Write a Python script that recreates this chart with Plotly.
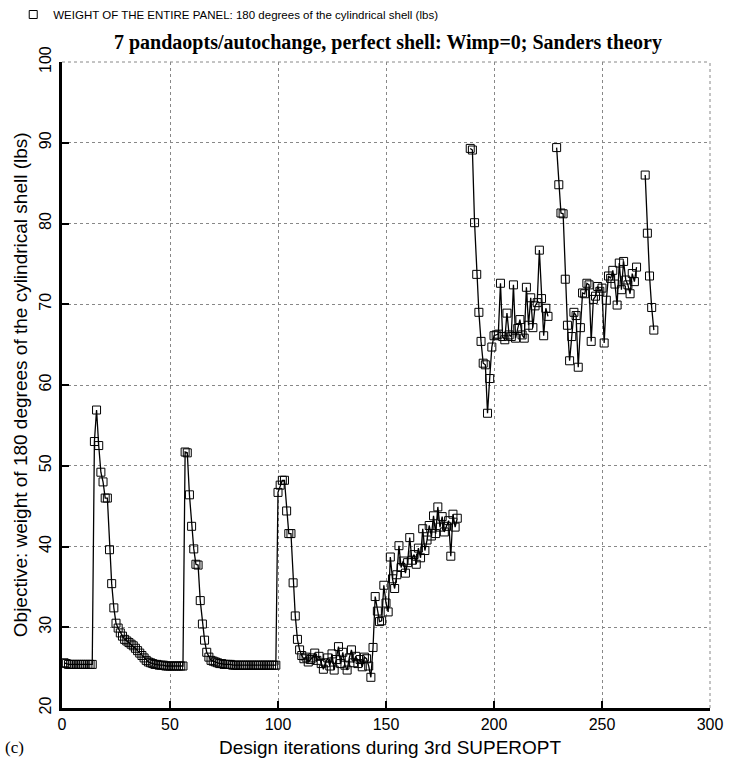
import plotly.graph_objects as go

# ---- data: (first iteration, values) for each continuous run of design iterations ----
seg1_start = 1
seg1_values = [
    # 1-14 flat
    25.6, 25.5, 25.4, 25.4, 25.4, 25.4, 25.4, 25.4, 25.4, 25.4, 25.4, 25.4, 25.4, 25.4,
    # 15-44 first spike and decay
    53.0, 56.9, 52.5, 49.2, 48.0, 46.0, 46.0, 39.6, 35.4, 32.4, 30.5, 29.9, 29.3, 28.9, 28.5,
    28.3, 28.1, 27.9, 27.7, 27.4, 27.1, 26.8, 26.5, 26.2, 25.9, 25.7, 25.6, 25.5, 25.4, 25.4,
    # 45-56
    25.3, 25.3, 25.3, 25.2, 25.2, 25.2, 25.2, 25.2, 25.2, 25.2, 25.2, 25.2,
    # 57-69 second spike
    51.7, 51.6, 46.4, 42.5, 39.7, 37.8, 37.7, 33.3, 30.4, 28.4, 26.9, 26.3, 25.9,
    # 70-99
    25.8, 25.7, 25.6, 25.5, 25.5, 25.4, 25.4, 25.4, 25.4, 25.3, 25.3, 25.3, 25.3, 25.3, 25.3,
    25.3, 25.3, 25.3, 25.3, 25.3, 25.3, 25.3, 25.3, 25.3, 25.3, 25.3, 25.3, 25.3, 25.3, 25.3,
    # 100-111 third spike
    46.7, 47.6, 48.2, 48.2, 44.4, 41.6, 41.6, 35.5, 31.4, 28.5, 27.2, 26.5,
    # 112-143 noisy plateau
    26.1, 26.3, 25.7, 26.0, 26.2, 26.8, 25.9, 26.4, 25.5, 24.8, 25.6, 26.2, 25.2, 26.7, 24.7, 26.0,
    27.6, 25.5, 26.9, 25.3, 24.7, 26.2, 27.2, 25.6, 26.4, 25.5, 26.0, 25.1, 26.3, 26.1, 25.2, 23.8,
    # 144-183 rising noisy section
    27.5, 33.8, 32.0, 30.7, 30.8, 35.2, 33.0, 31.9, 38.7, 36.0, 34.8, 36.5, 40.1, 37.4, 38.2, 36.7,
    38.0, 41.1, 38.3, 39.0, 37.8, 39.8, 38.6, 42.2, 39.5, 40.8, 42.6, 41.3, 43.8, 41.6, 44.9, 42.4,
    43.7, 41.8, 42.5, 43.2, 38.8, 44.0, 42.4, 43.5,
]
seg2_start = 189
seg2_values = [
    89.3, 89.1, 80.1, 73.7, 69.0, 65.4, 62.7, 62.5, 56.5, 60.8, 64.7, 66.1, 66.2, 66.3, 72.6, 66.0,
    65.6, 68.9, 66.2, 66.0, 72.4, 65.8, 67.0, 68.1, 66.2, 65.8, 72.1, 67.4, 70.8, 67.1, 69.8, 70.2,
    76.7, 70.7, 66.1, 69.5, 68.5,
]
seg3_start = 229
seg3_values = [
    89.4, 84.8, 81.3, 81.2, 73.1, 67.4, 63.0, 66.0, 69.0, 68.6, 62.2, 67.1, 71.4, 71.3, 72.6, 72.4,
    65.4, 70.6, 71.0, 72.2, 71.6, 72.0, 65.2, 70.5, 73.5, 73.2, 74.2, 72.5, 69.9, 75.1, 71.8, 75.3,
    73.0, 72.4, 71.3, 73.8, 72.8, 74.6,
]
seg4_start = 270
seg4_values = [86.0, 78.8, 73.5, 69.6, 66.8]

x_ticks = [0, 50, 100, 150, 200, 250, 300]
y_ticks = [20, 30, 40, 50, 60, 70, 80, 90, 100]

legend_name = "WEIGHT OF THE ENTIRE PANEL: 180 degrees of the cylindrical shell (lbs)"
title_text = "7 pandaopts/autochange, perfect shell: Wimp=0; Sanders theory"
x_title = "Design iterations during 3rd SUPEROPT"
y_title = "Objective: weight of 180 degrees of the cylindrical shell (lbs)"

# ---- assemble series with gaps between runs ----
xs, ys = [], []
for start, vals in [(seg1_start, seg1_values), (seg2_start, seg2_values),
                    (seg3_start, seg3_values), (seg4_start, seg4_values)]:
    if xs:
        xs.append(None)
        ys.append(None)
    xs.extend(range(start, start + len(vals)))
    ys.extend(vals)

SANS = "Liberation Sans, Arial, Helvetica, sans-serif"
SERIF = "Liberation Serif, Times New Roman, serif"

fig = go.Figure()
fig.add_trace(go.Scatter(x=xs, y=ys, mode="lines", connectgaps=False,
                         line=dict(color="black", width=1.3), showlegend=False,
                         hoverinfo="skip"))
fig.add_trace(go.Scatter(x=xs, y=ys, mode="markers", name=legend_name,
                         marker=dict(symbol="square-open", size=8, color="black",
                                     line=dict(width=1, color="black"))))

W, H = 735, 761
ml, mr, mt, mb = 62, 22, 62, 53

grid = dict(showgrid=True, gridcolor="#888", gridwidth=1, griddash="dot")
fig.update_xaxes(range=[0, 300], tickvals=x_ticks, ticks="inside", ticklen=7, tickwidth=2,
                 tickcolor="black", showline=True, linecolor="black", linewidth=3,
                 zeroline=False, tickfont=dict(family=SANS, size=16, color="black"), **grid)
fig.update_yaxes(range=[20, 100], tickvals=y_ticks, ticks="inside", ticklen=7, tickwidth=2,
                 tickcolor="black", showline=True, linecolor="black", linewidth=3,
                 zeroline=False, tickangle=-90, ticklabelstandoff=2,
                 tickfont=dict(family=SANS, size=16, color="black"), **grid)

ph = H - mt - mb
pw = W - ml - mr
fig.update_layout(
    width=W, height=H, margin=dict(l=ml, r=mr, t=mt, b=mb),
    paper_bgcolor="white", plot_bgcolor="white",
    title=dict(text="<b>" + title_text + "</b>", x=0.503, xref="paper", xanchor="center",
               y=1 - 42 / H, yref="container", yanchor="middle",
               font=dict(family=SERIF, size=20, color="black")),
    legend=dict(x=(13 - ml) / pw, xanchor="left", y=1.0, yref="container", yanchor="top",
                bgcolor="rgba(0,0,0,0)", font=dict(family=SANS, size=11.5, color="black")),
    shapes=[
        dict(type="line", xref="paper", yref="paper", x0=0, x1=1, y0=1, y1=1,
             line=dict(color="#888", width=1, dash="dot")),
        dict(type="line", xref="paper", yref="paper", x0=1, x1=1, y0=0, y1=1,
             line=dict(color="#888", width=1, dash="dot")),
    ],
    annotations=[
        dict(text=y_title, xref="paper", yref="paper", x=(20 - ml) / pw, y=0.5,
             xanchor="center", yanchor="middle", textangle=-90, showarrow=False,
             font=dict(family=SANS, size=19, color="black")),
        dict(text=x_title, xref="paper", yref="paper", x=(392 - ml) / pw, y=-(747 - (H - mb)) / ph,
             xanchor="center", yanchor="middle", showarrow=False,
             font=dict(family=SANS, size=19, color="black")),
        dict(text="(c)", xref="paper", yref="paper", x=(14 - ml) / pw, y=-(747 - (H - mb)) / ph,
             xanchor="center", yanchor="middle", showarrow=False,
             font=dict(family=SERIF, size=17, color="black")),
    ],
)

fig.write_html("out.html")
